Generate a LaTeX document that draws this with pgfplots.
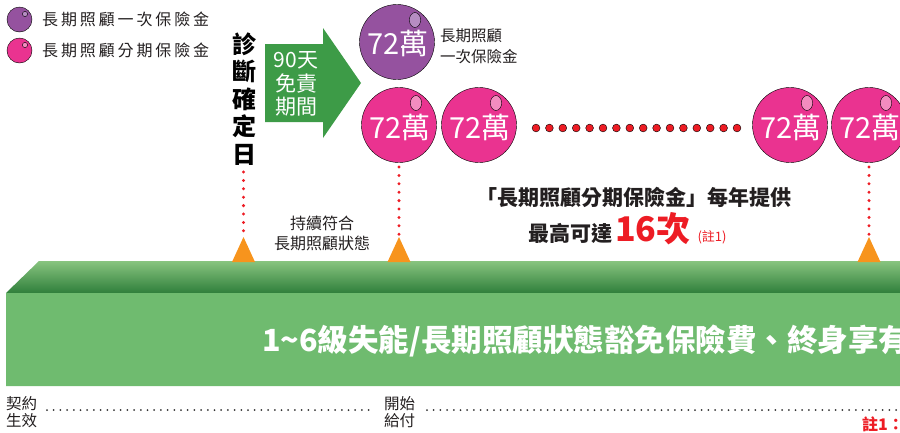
\documentclass[border=0pt]{standalone}
\usepackage{fontspec}
\setmainfont{Noto Sans CJK TC}
\usepackage{pgfplots}
\pgfplotsset{compat=1.18}

\definecolor{arrowgreen}{HTML}{3D9B47}
\definecolor{gtop}{HTML}{88C47F}
\definecolor{gmid}{HTML}{5AA84A}
\definecolor{gbot}{HTML}{2F7F3B}
\definecolor{gfront}{HTML}{6FBB6F}
\definecolor{pinkb}{HTML}{EA3390}
\definecolor{pinkhi}{HTML}{F38CBF}
\definecolor{purpb}{HTML}{95529F}
\definecolor{purphi}{HTML}{B68DC2}
\definecolor{redd}{HTML}{ED1C24}
\definecolor{orangeT}{HTML}{F7941D}
\definecolor{txt}{HTML}{231F20}
\definecolor{dotcol}{HTML}{333333}

\newcommand{\fs}[2]{\fontsize{#1}{#2}\selectfont}

\begin{document}
\begin{tikzpicture}
\begin{axis}[
    scale only axis,
    width=900pt, height=432pt,
    xmin=0, xmax=900, ymin=0, ymax=432,
    y dir=reverse,
    hide axis,
    clip=false,
]
% green arrow (90 days)
\addplot[draw=none, fill=arrowgreen] coordinates {
    (265,44) (323,44) (323,28) (361,83) (323,138) (323,122) (265,122) (265,44)};

% green platform: top face and front face
\addplot[draw=none, top color=gtop, middle color=gmid, bottom color=gbot] coordinates {
    (39,261) (905,261) (905,293) (6,293) (39,261)};
\addplot[draw=none, fill=gfront] coordinates {
    (6,293) (905,293) (905,386) (6,386) (6,293)};

% red dotted verticals
\addplot[redd, line width=3.3pt, line cap=round, dash pattern=on 0pt off 8.4pt]
    coordinates {(243.5,172) (243.5,236)};
\addplot[redd, line width=3.3pt, line cap=round, dash pattern=on 0pt off 8.4pt]
    coordinates {(399,167) (399,236)};
\addplot[redd, line width=3.3pt, line cap=round, dash pattern=on 0pt off 8.4pt]
    coordinates {(869,167) (869,236)};

% orange triangles
\addplot[draw=none, fill=orangeT] coordinates {(232,262) (243.5,237) (255,262) (232,262)};
\addplot[draw=none, fill=orangeT] coordinates {(387.5,262) (399,237) (410.5,262) (387.5,262)};
\addplot[draw=none, fill=orangeT] coordinates {(857.5,262) (869,237) (880.5,262) (857.5,262)};

% red dots between bubbles
\addplot[only marks, mark=*, mark size=3.9pt, mark options={fill=redd, draw=none}] coordinates {
    (536,128) (549.4,128) (562.8,128) (576.2,128) (589.6,128) (603,128) (616.4,128) (629.8,128)
    (643.2,128) (656.6,128) (670,128) (683.4,128) (696.8,128) (710.2,128) (723.6,128) (737,128)};

% bubbles
\addplot[only marks, mark=*, mark size=37.5pt, mark options={fill=purpb, draw=none}] coordinates {(397,42)};
\addplot[only marks, mark=*, mark size=37.5pt, mark options={fill=pinkb, draw=none}] coordinates {
    (399,125) (479,125) (790,125) (869,125)};
\addplot[only marks, mark=*, mark size=12.5pt, mark options={fill=purpb, draw=none}] coordinates {(19.5,19.5)};
\addplot[only marks, mark=*, mark size=12.5pt, mark options={fill=pinkb, draw=none}] coordinates {(19.5,50.5)};

% highlights
\addplot[only marks, mark=*, mark size=7.5pt, mark options={fill=purphi, draw=none, xscale=0.75, rotate=25}]
    coordinates {(415,20)};
\addplot[only marks, mark=*, mark size=7.5pt, mark options={fill=pinkhi, draw=none, xscale=0.75, rotate=25}]
    coordinates {(416,103) (496,103) (807,103) (886,103)};
\addplot[only marks, mark=*, mark size=2.6pt, mark options={fill=purphi, draw=none}] coordinates {(25,14)};
\addplot[only marks, mark=*, mark size=2.6pt, mark options={fill=pinkhi, draw=none}] coordinates {(25,45)};

% bubble labels
\addplot[only marks, mark=none, nodes near coords, point meta=explicit symbolic,
    every node near coord/.append style={anchor=center, text=white, font=\fs{29}{29}, inner sep=0pt}]
    coordinates {(398,43)[72萬] (400,127)[72萬] (480,127)[72萬] (791,127)[72萬] (870,127)[72萬]};

% bottom dotted timeline
\addplot[dotcol, line width=2pt, line cap=round, dash pattern=on 0pt off 6.7pt]
    coordinates {(47,410) (373,410)};
\addplot[dotcol, line width=2pt, line cap=round, dash pattern=on 0pt off 6.7pt]
    coordinates {(427,410) (905,410)};

% texts
\node[anchor=west, text=txt, font={\fs{16}{16}\addfontfeature{LetterSpace=18}}, inner sep=0pt]
    at (axis cs:42,19.5) {長期照顧一次保險金};
\node[anchor=west, text=txt, font={\fs{16}{16}\addfontfeature{LetterSpace=18}}, inner sep=0pt]
    at (axis cs:42,50.5) {長期照顧分期保險金};

\node[text=black, font=\fs{24}{27.6}\bfseries, align=center, inner sep=0pt]
    at (axis cs:244.5,99) {診\\斷\\確\\定\\日};

\node[text=white, font=\fs{21}{23.5}, align=center, inner sep=0pt]
    at (axis cs:296,84) {90天\\免責\\期間};

\node[anchor=west, text=txt, font=\fs{15.5}{21}, align=left, inner sep=0pt]
    at (axis cs:440,46) {長期照顧\\一次保險金};

\node[text=txt, font=\fs{16}{20}, align=center, inner sep=0pt]
    at (axis cs:322,233) {持續符合\\長期照顧狀態};

\node[text=txt, font=\fs{21}{21}\bfseries, inner sep=0pt]
    at (axis cs:633.5,197.5) {「長期照顧分期保險金」每年提供};

\node[anchor=base west, text=txt, inner sep=0pt]
    at (axis cs:528,241) {{\fs{21}{21}\bfseries 最高可達}\hspace{3pt}{\color{redd}\fs{34}{34}\bfseries 16次}\hspace{4pt}{\color{redd}\fs{13}{13} (註1)}};

\node[anchor=west, text=white, font=\fs{30.5}{30.5}\bfseries, inner sep=0pt]
    at (axis cs:262,341.5) {1\textasciitilde6級失能/長期照顧狀態豁免保險費、終身享有};

\node[anchor=west, text=txt, font=\fs{15.5}{16.5}, align=left, inner sep=0pt]
    at (axis cs:6,412) {契約\\生效};
\node[anchor=west, text=txt, font=\fs{15.5}{16.5}, align=left, inner sep=0pt]
    at (axis cs:384,412) {開始\\給付};
\node[anchor=west, text=redd, font=\fs{16}{16}\bfseries, inner sep=0pt]
    at (axis cs:862,424) {註1：};
\end{axis}
\pgfresetboundingbox
\useasboundingbox (current axis.south west) rectangle (current axis.north east);
\end{tikzpicture}
\end{document}
